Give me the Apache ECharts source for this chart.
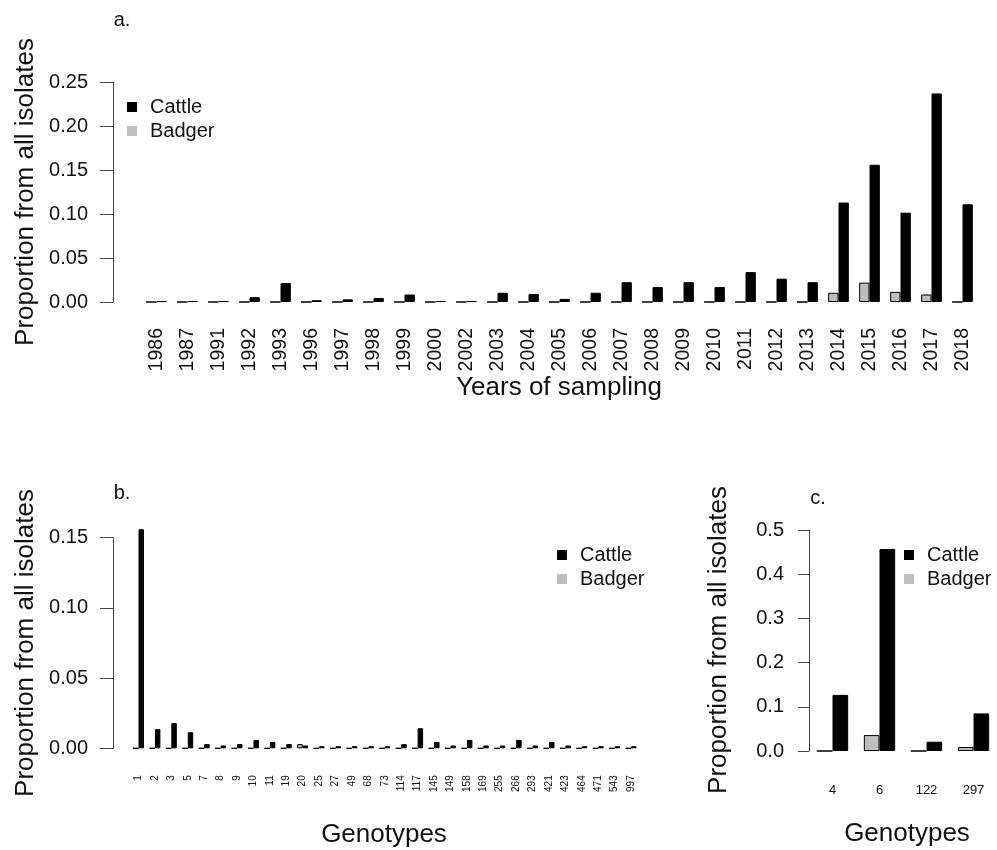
<!DOCTYPE html>
<html>
<head>
<meta charset="utf-8">
<script src="https://cdn.jsdelivr.net/npm/echarts@6/dist/echarts.min.js"></script>
<style>
html,body{margin:0;padding:0;background:#fff;}
#chart{width:997px;height:850px;}
</style>
</head>
<body>
<div id="chart"></div>
<script>
// ---- Data ----
var years = ['1986','1987','1991','1992','1993','1996','1997','1998','1999','2000','2002','2003','2004','2005','2006','2007','2008','2009','2010','2011','2012','2013','2014','2015','2016','2017','2018'];
var cattleYears = [0.001,0.001,0.001,0.0055,0.0215,0.002,0.003,0.0045,0.0085,0.001,0.001,0.0105,0.009,0.0035,0.0105,0.0225,0.017,0.0225,0.017,0.034,0.0265,0.0225,0.113,0.156,0.1015,0.237,0.111];
var badgerYears = [0,0,0,0,0,0,0,0,0,0,0,0,0,0,0,0,0,0,0,0,0,0,0.0105,0.022,0.0115,0.0085,0];

var genotypesB = ['1','2','3','5','7','8','9','10','11','19','20','25','27','49','68','73','114','117','145','149','158','169','255','266','293','421','423','464','471','543','997'];
var cattleB = [0.156,0.0136,0.0179,0.0114,0.003,0.002,0.003,0.006,0.0045,0.003,0.002,0.0015,0.0015,0.0015,0.0015,0.0015,0.003,0.0143,0.0045,0.002,0.006,0.002,0.002,0.006,0.002,0.0045,0.002,0.0015,0.0015,0.0015,0.0015];
var badgerB = [0,0,0,0,0,0,0,0,0,0,0.003,0,0,0,0,0,0,0,0,0,0,0,0,0,0,0,0,0,0,0,0];

var genotypesC = ['4','6','122','297'];
var cattleC = [0.127,0.457,0.021,0.085];
var badgerC = [0,0.036,0,0.009];

var yTicksA = [0, 0.25, 0.05];
var yTicksB = [0, 0.15, 0.05];
var yTicksC = [0, 0.5, 0.1];

// ---- Chart ----
var FONT = 'Liberation Sans, Arial, sans-serif';
var TXT = '#111';
var chart = echarts.init(document.getElementById('chart'), null, {renderer:'canvas'});

function yAxisDef(idx, ticks, offset, tickLen, dec){
  return {
    type:'value', gridIndex:idx, min:ticks[0], max:ticks[1], interval:ticks[2], offset:offset,
    axisLine:{show:true, lineStyle:{color:'#444', width:1}},
    axisTick:{show:true, length:tickLen, lineStyle:{color:'#444', width:1}},
    axisLabel:{margin:25, fontSize:20, color:TXT, fontFamily:FONT, formatter:function(v){return v.toFixed(dec);}},
    splitLine:{show:false}
  };
}
function xAxisDef(idx, cats, rot, fs, margin){
  return {
    type:'category', gridIndex:idx, data:cats, boundaryGap:true,
    axisLine:{show:false}, axisTick:{show:false},
    axisLabel:{rotate:rot, fontSize:fs, color:TXT, fontFamily:FONT, margin:margin, interval:0}
  };
}
function barSeries(name, idx, data, fill){
  return {
    name:name, type:'bar', xAxisIndex:idx, yAxisIndex:idx, data:data,
    barGap:'0%', barCategoryGap:'33.33%', clip:false,
    itemStyle:{color:fill, borderColor:'#000', borderWidth:1},
    emphasis:{disabled:true}, animation:false
  };
}
function legendDef(left, top){
  return {
    orient:'vertical', left:left, top:top, padding:0, icon:'rect', itemWidth:10, itemHeight:10, itemGap:4,
    selectedMode:false,
    textStyle:{fontSize:20, lineHeight:20, color:TXT, fontFamily:FONT, padding:[0,0,0,8]},
    data:[{name:'Cattle', itemStyle:{color:'#000', borderWidth:0}},
          {name:'Badger', itemStyle:{color:'#bebebe', borderWidth:0}}]
  };
}
function txt(x, y, s, fs, rot){
  return {type:'text', x:x, y:y, rotation:rot||0, silent:true,
    style:{text:s, fontSize:fs, fontFamily:FONT, fill:TXT, textAlign:'center', textVerticalAlign:'middle'}};
}

var option = {
  backgroundColor:'#fff',
  animation:false,
  grid:[
    {left:141, top:82, width:837, height:220},
    {left:130.3, top:537.7, width:509, height:210.6},
    {left:809, top:530, width:196, height:221}
  ],
  xAxis:[
    xAxisDef(0, years, 90, 19.5, 26),
    xAxisDef(1, genotypesB, 90, 10, 27),
    xAxisDef(2, genotypesC, 0, 13, 33)
  ],
  yAxis:[
    yAxisDef(0, yTicksA, 28, 13, 2),
    yAxisDef(1, yTicksB, 17.3, 13, 2),
    yAxisDef(2, yTicksC, 0, 11, 1)
  ],
  legend:[legendDef(127, 97), legendDef(557, 545), legendDef(904, 545)],
  series:[
    barSeries('Badger', 0, badgerYears, '#bebebe'),
    barSeries('Cattle', 0, cattleYears, '#000'),
    barSeries('Badger', 1, badgerB, '#bebebe'),
    barSeries('Cattle', 1, cattleB, '#000'),
    barSeries('Badger', 2, badgerC, '#bebebe'),
    barSeries('Cattle', 2, cattleC, '#000')
  ],
  graphic:[
    txt(122, 20, 'a.', 20),
    txt(122, 493, 'b.', 20),
    txt(818, 498, 'c.', 20),
    txt(26, 192, 'Proportion from all isolates', 26, Math.PI/2),
    txt(26, 643, 'Proportion from all isolates', 26, Math.PI/2),
    txt(719, 640, 'Proportion from all isolates', 26, Math.PI/2),
    txt(559, 388, 'Years of sampling', 26),
    txt(384, 835, 'Genotypes', 26),
    txt(907, 834, 'Genotypes', 26)
  ]
};
chart.setOption(option);
</script>
</body>
</html>
